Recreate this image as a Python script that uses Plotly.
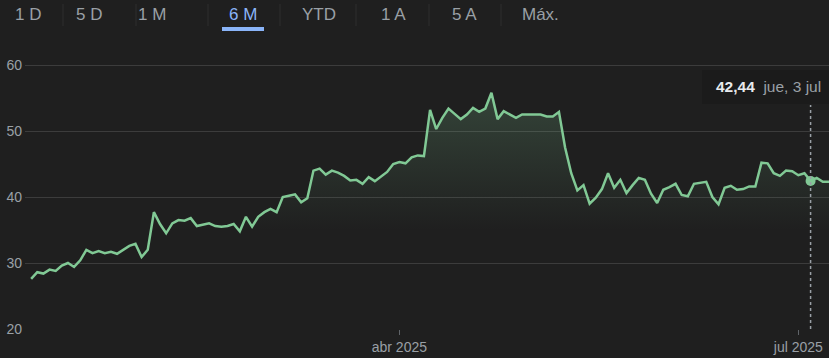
import pandas as pd
import plotly.graph_objects as go

# ---------------- data ----------------
start_date = "2025-01-07"
end_date = "2025-07-08"
prices = [
    27.6, 28.6, 28.4, 29.0, 28.8, 29.6, 30.0, 29.4, 30.4, 32.0,
    31.5, 31.8, 31.5, 31.7, 31.4, 32.0, 32.6, 32.9, 30.9, 32.0,
    37.7, 35.9, 34.5, 36.0, 36.5, 36.4, 36.8, 35.6, 35.8, 36.0,
    35.6, 35.5, 35.6, 35.9, 34.8, 37.0, 35.5, 37.0, 37.7, 38.2,
    37.7, 40.0, 40.2, 40.4, 39.2, 39.8, 44.0, 44.3, 43.4, 44.0,
    43.7, 43.2, 42.5, 42.6, 42.0, 43.0, 42.4, 43.1, 43.8, 45.0,
    45.3, 45.1, 46.0, 46.3, 46.2, 53.2, 50.3, 52.0, 53.4, 52.6,
    51.8, 52.5, 53.5, 52.9, 53.4, 55.8, 51.8, 53.0, 52.5, 52.0,
    52.5, 52.5, 52.4, 52.5, 52.2, 52.2, 52.9, 47.5, 43.6, 41.0,
    41.8, 39.0, 39.9, 41.2, 43.6, 41.4, 42.6, 40.6, 41.8, 42.9,
    42.6, 40.5, 39.1, 41.1, 41.5, 42.0, 40.3, 40.1, 42.0, 42.2,
    42.3, 40.0, 38.9, 41.4, 41.7, 41.1, 41.2, 41.6, 41.6, 45.2,
    45.1, 43.6, 43.2, 44.0, 43.9, 43.3, 43.6, 42.44, 42.9, 42.3,
    42.3,
]
tabs = ["1 D", "5 D", "1 M", "6 M", "YTD", "1 A", "5 A", "Máx."]
selected_tab = "6 M"
y_ticks = [20, 30, 40, 50, 60]
x_tick_dates = ["2025-04-01", "2025-07-01"]
x_tick_labels = ["abr 2025", "jul 2025"]
hover_date = "2025-07-03"
hover_value = 42.44
hover_value_text = "42,44"
hover_date_text = "jue, 3 jul"

dates = pd.bdate_range(start_date, end_date)
n = min(len(dates), len(prices))
dates = dates[:n]
prices = prices[:n]

# ---------------- layout constants ----------------
W, H = 829, 358
L, R, T, B = 25, 0, 49, 29
plot_w = W - L - R
plot_h = H - T - B
BG = "#1f1f1f"
GREEN = "#81c995"
GREY = "#9aa0a6"
BLUE = "#8ab4f8"
GRID = "#3c3c3c"
FONT = "Liberation Sans, Arial, sans-serif"


def px_x(px):
    return (px - L) / plot_w


def px_y(py):
    return (H - B - py) / plot_h


fig = go.Figure()

fig.add_trace(go.Scatter(
    x=dates, y=prices, mode="lines",
    line=dict(color=GREEN, width=2.5),
    fill="tozeroy",
    fillgradient=dict(
        type="vertical",
        colorscale=[[0, "rgba(129,201,149,0)"], [1, "rgba(129,201,149,0.22)"]],
        start=35, stop=56,
    ),
    hoverinfo="skip", showlegend=False,
))

fig.add_trace(go.Scatter(
    x=[pd.Timestamp(hover_date)], y=[hover_value], mode="markers",
    marker=dict(color=GREEN, size=10),
    hoverinfo="skip", showlegend=False,
))

shapes = []
annotations = []

# tabs
tab_centers = [28, 89, 152, 243, 319, 393, 464, 540]
separators = [63, 136, 208, 280, 356, 429, 501]
for label, cx in zip(tabs, tab_centers):
    annotations.append(dict(
        text=label, xref="paper", yref="paper",
        x=px_x(cx), y=px_y(14), xanchor="center", yanchor="middle",
        showarrow=False,
        font=dict(family=FONT, size=17, color=BLUE if label == selected_tab else GREY),
    ))
for sx in separators:
    shapes.append(dict(type="line", xref="paper", yref="paper",
                       x0=px_x(sx), x1=px_x(sx), y0=px_y(4), y1=px_y(26),
                       line=dict(color="#2e2e2e", width=1)))
sel_cx = tab_centers[tabs.index(selected_tab)]
shapes.append(dict(type="rect", xref="paper", yref="paper",
                   x0=px_x(sel_cx - 21), x1=px_x(sel_cx + 21),
                   y0=px_y(31), y1=px_y(27),
                   fillcolor=BLUE, line=dict(width=0)))

# tooltip box, dotted crosshair
shapes.append(dict(type="rect", xref="paper", yref="paper",
                   x0=px_x(702), x1=px_x(829), y0=px_y(104), y1=px_y(70),
                   fillcolor="#1b1b1b", line=dict(width=0), layer="above"))
shapes.append(dict(type="line", xref="x", yref="paper",
                   x0=hover_date, x1=hover_date, y0=0, y1=px_y(105),
                   line=dict(color=GREY, width=1.5, dash="dot")))
annotations.append(dict(
    text=f"<b>{hover_value_text}</b>&nbsp;&nbsp;<span style='color:{GREY}'>{hover_date_text}</span>",
    xref="paper", yref="paper", x=px_x(768), y=px_y(87),
    xanchor="center", yanchor="middle", showarrow=False,
    font=dict(family=FONT, size=15.5, color="#e8eaed"),
))

fig.update_layout(
    width=W, height=H,
    margin=dict(l=L, r=R, t=T, b=B, pad=0),
    paper_bgcolor=BG, plot_bgcolor=BG,
    font=dict(family=FONT, color=GREY, size=14),
    shapes=shapes, annotations=annotations,
    showlegend=False,
    xaxis=dict(
        type="date",
        range=["2025-01-06", end_date],
        rangebreaks=[dict(bounds=["sat", "mon"])],
        tickvals=x_tick_dates, ticktext=x_tick_labels,
        ticks="outside", ticklen=5, tickcolor="#5f6368", tickwidth=1,
        showgrid=False, zeroline=False, showline=False,
        tickfont=dict(family=FONT, size=14, color=GREY),
    ),
    yaxis=dict(
        range=[20, 20 + plot_h / 6.6],
        tickvals=y_ticks,
        showgrid=True, gridcolor=GRID, gridwidth=1,
        zeroline=False, showline=False, ticks="",
        tickfont=dict(family=FONT, size=14, color=GREY),
        ticklabelstandoff=2,
    ),
)

fig.write_html("out.html")
